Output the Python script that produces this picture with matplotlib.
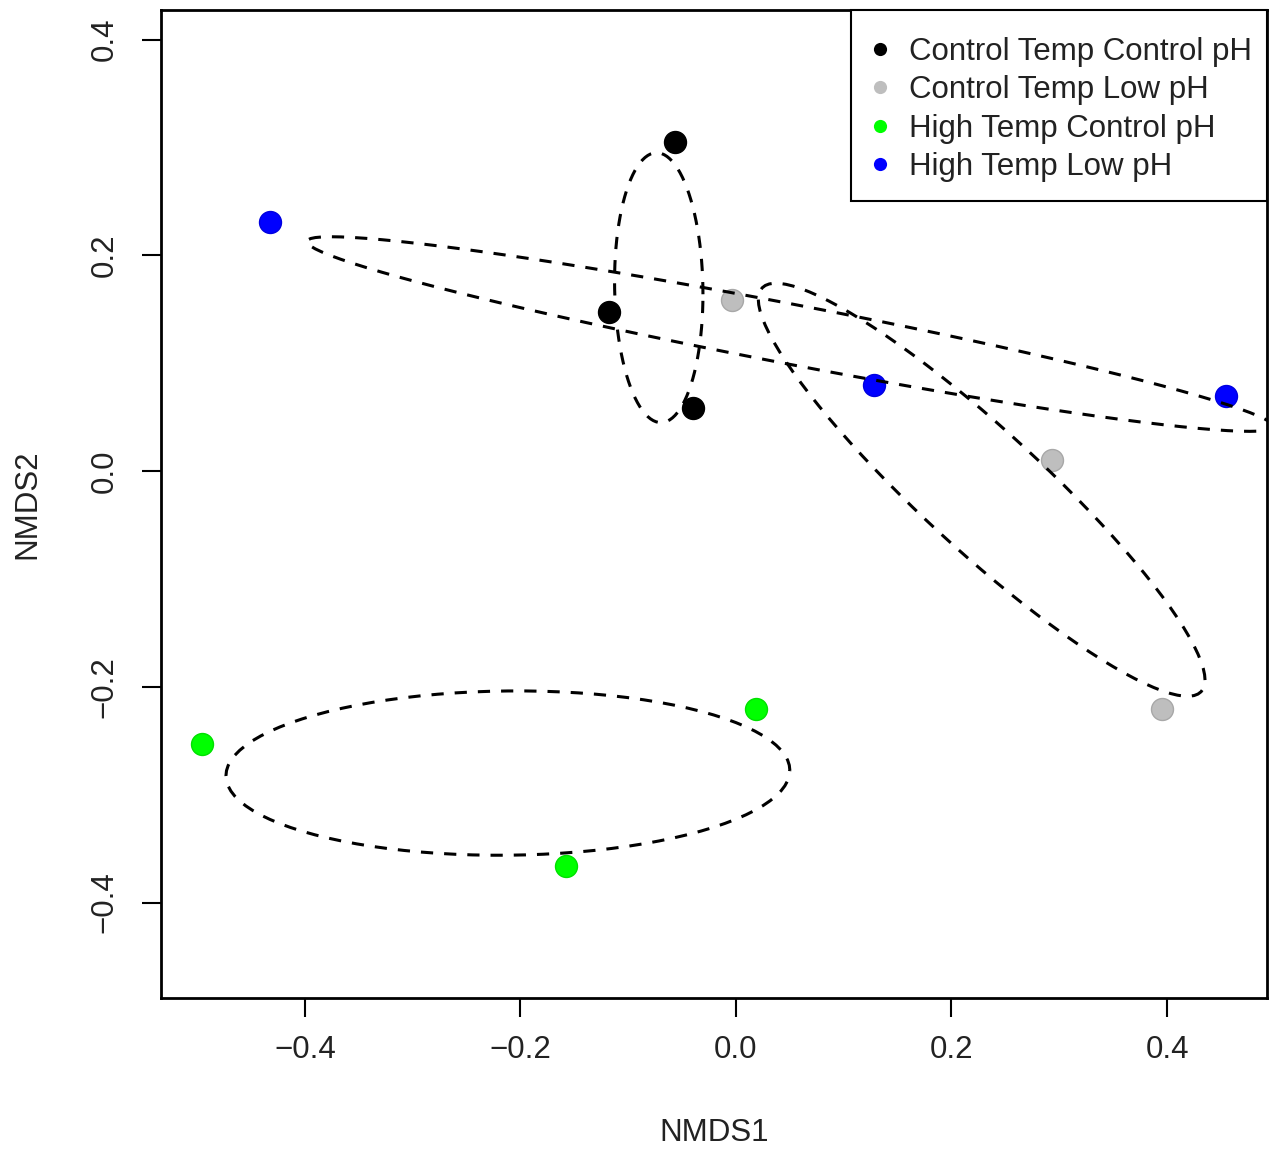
import numpy as np
import matplotlib.pyplot as plt
from matplotlib.patches import Rectangle

plt.rcParams['font.family'] = ['Liberation Sans', 'DejaVu Sans']

# NMDS site scores per treatment
groups = ['Control Temp Control pH', 'Control Temp Low pH',
          'High Temp Control pH', 'High Temp Low pH']
colors = ['#000000', '#bebebe', '#00ff00', '#0000ff']
edges = ['#000000', '#a8a8a8', '#00e000', '#0000e0']

nmds1 = {
    'Control Temp Control pH': [-0.057, -0.118, -0.040],
    'Control Temp Low pH': [-0.004, 0.293, 0.395],
    'High Temp Control pH': [-0.496, 0.019, -0.158],
    'High Temp Low pH': [-0.432, 0.128, 0.455],
}
nmds2 = {
    'Control Temp Control pH': [0.305, 0.147, 0.058],
    'Control Temp Low pH': [0.159, 0.010, -0.221],
    'High Temp Control pH': [-0.253, -0.221, -0.366],
    'High Temp Low pH': [0.231, 0.080, 0.070],
}


def sd_ellipse(x, y, npoints=100):
    # standard deviation ellipse, like vegan::ordiellipse(kind="sd")
    pts = np.column_stack([x, y])
    center = pts.mean(axis=0)
    cov = np.cov(pts, rowvar=False)
    L = np.linalg.cholesky(cov)
    theta = np.linspace(0, 2 * np.pi, npoints + 1)
    circle = np.column_stack([np.cos(theta), np.sin(theta)])
    return center + circle @ L.T


fig = plt.figure(figsize=(12.76, 11.49), dpi=100)
ax = fig.add_axes([161 / 1276, 151 / 1149, 1106 / 1276, 988 / 1149])

for g, c, ec in zip(groups, colors, edges):
    ax.scatter(nmds1[g], nmds2[g], s=250, color=c, edgecolors=ec,
               linewidths=1.0, zorder=2)

for g in groups:
    e = sd_ellipse(nmds1[g], nmds2[g])
    ax.plot(e[:, 0], e[:, 1], color='black', lw=2.2,
            dashes=(4.0, 3.6), zorder=3)

ax.set_xlim(-0.5336, 0.4928)
ax.set_ylim(-0.4885, 0.4274)
ax.set_xticks([-0.4, -0.2, 0.0, 0.2, 0.4])
ax.set_yticks([-0.4, -0.2, 0.0, 0.2, 0.4])
ax.tick_params(axis='both', direction='out', length=14, width=1.5,
               labelsize=22.5, labelcolor='#222222')
ax.tick_params(axis='x', pad=13)
ax.tick_params(axis='y', pad=16)
for lab in ax.get_yticklabels():
    lab.set_rotation(90)
    lab.set_va('center')
for sp in ax.spines.values():
    sp.set_linewidth(2)

fig.text(714 / 1276, 1 - 1133 / 1149, 'NMDS1', ha='center', va='center',
         fontsize=22.5, color='#222222')
fig.text(27 / 1276, 1 - 504 / 1149, 'NMDS2', ha='center', va='center',
         rotation=90, fontsize=22.5, color='#222222')

# legend box in the top right corner, drawn in axes fractions
box = Rectangle((0.6239, 0.8067), 1 - 0.6239, 1 - 0.8067,
                transform=ax.transAxes, facecolor='white',
                edgecolor='black', lw=1.5, zorder=5, clip_on=False)
ax.add_patch(box)
row_y = [0.9605, 0.9221, 0.8826, 0.8441]
cap_half = 11 / 988
for g, c, y in zip(groups, colors, row_y):
    ax.scatter([0.6501], [y], s=90, color=c, transform=ax.transAxes,
               zorder=6, clip_on=False, linewidths=0)
    ax.text(0.6763, y - cap_half, g, transform=ax.transAxes, va='baseline',
            ha='left', fontsize=22.5, color='#222222', zorder=6)

fig.savefig('out.png', dpi=100)
